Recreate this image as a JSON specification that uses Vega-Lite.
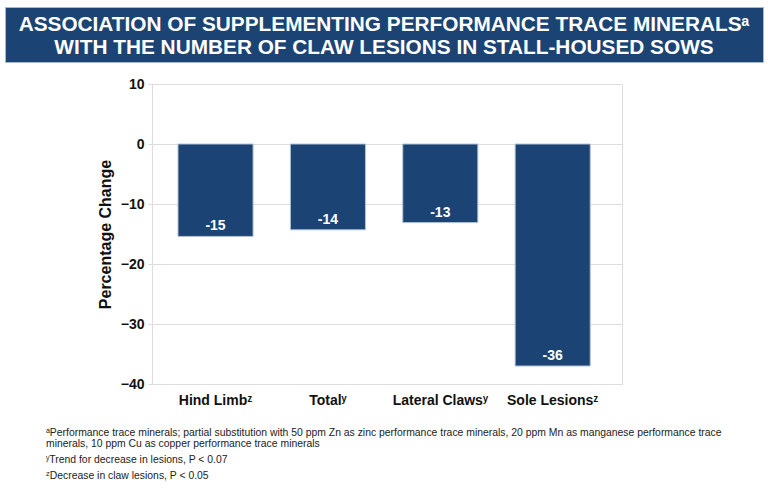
{
  "$schema": "https://vega.github.io/schema/vega-lite/v6.json",
  "padding": {"left": 4, "top": 6, "right": 0, "bottom": 0},
  "background": "#ffffff",
  "config": {
    "font": "Liberation Sans",
    "view": {"stroke": "#dddddd"}
  },
  "title": {
    "text": [
      "ᵃPerformance trace minerals; partial substitution with 50 ppm Zn as zinc performance trace minerals, 20 ppm Mn as manganese performance trace",
      "\u2002minerals, 10 ppm Cu as copper performance trace minerals"
    ],
    "subtitle": [
      "ʸTrend for decrease in lesions, P < 0.07",
      "ᶻDecrease in claw lesions, P < 0.05"
    ],
    "orient": "bottom",
    "anchor": "start",
    "frame": "bounds",
    "align": "left",
    "dx": 41.5,
    "offset": 20,
    "font": "Liberation Sans",
    "fontSize": 10.4,
    "fontWeight": "normal",
    "color": "#222222",
    "lineHeight": 11,
    "subtitleFont": "Liberation Sans",
    "subtitleFontSize": 10.4,
    "subtitleColor": "#222222",
    "subtitleLineHeight": 16,
    "subtitlePadding": 6
  },
  "vconcat": [
    {
      "width": 758,
      "height": 55,
      "view": {"fill": "#1b4373", "stroke": "#a9b8cc", "strokeWidth": 1},
      "data": {"values": [{"heading": "ASSOCIATION OF SUPPLEMENTING PERFORMANCE TRACE MINERALSᵃ\nWITH THE NUMBER OF CLAW LESIONS IN STALL-HOUSED SOWS"}]},
      "mark": {"type": "text", "lineBreak": "\n", "lineHeight": 23, "baseline": "middle", "align": "center", "dy": -10, "font": "Liberation Sans", "fontSize": 20.8, "fontWeight": "bold", "color": "#ffffff"},
      "encoding": {"text": {"field": "heading", "type": "nominal"}}
    },
    {
      "spacing": 0,
      "hconcat": [
        {
          "width": 91,
          "height": 20,
          "view": {"stroke": null, "fill": "#ffffff"},
          "data": {"values": []},
          "mark": "point",
          "encoding": {}
        },
        {
          "width": 470,
          "height": 300,
          "data": {
            "values": [
              {"category": "Hind Limbᶻ", "value": -15.4, "label": "-15"},
              {"category": "Totalʸ", "value": -14.3, "label": "-14"},
              {"category": "Lateral Clawsʸ", "value": -13.1, "label": "-13"},
              {"category": "Sole Lesionsᶻ", "value": -37.0, "label": "-36"}
            ]
          },
          "encoding": {
            "x": {
              "field": "category",
              "type": "nominal",
              "sort": null,
              "scale": {"paddingInner": 0.332, "paddingOuter": 0.257, "align": 0.45},
              "axis": {
                "title": null,
                "labelAngle": 0,
                "labelFontSize": 14,
                "labelFontWeight": "bold",
                "labelColor": "#111111",
                "labelPadding": 9,
                "ticks": false,
                "domain": false
              }
            }
          },
          "layer": [
            {
              "mark": {"type": "bar", "color": "#1b4373", "stroke": "#b3c1d4", "strokeWidth": 1},
              "encoding": {
                "y": {
                  "field": "value",
                  "type": "quantitative",
                  "scale": {"domain": [-40, 10], "nice": false},
                  "axis": {
                    "title": "Percentage Change",
                    "titleFontSize": 16,
                    "titleFontWeight": "bold",
                    "titleColor": "#111111",
                    "titlePadding": 7,
                    "values": [-40, -30, -20, -10, 0, 10],
                    "labelFontSize": 14,
                    "labelFontWeight": "bold",
                    "labelColor": "#111111",
                    "labelPadding": 4,
                    "tickSize": 4,
                    "tickColor": "#dddddd",
                    "gridColor": "#dddddd",
                    "domain": false
                  }
                }
              }
            },
            {
              "mark": {"type": "text", "color": "#ffffff", "fontSize": 14, "fontWeight": "bold", "baseline": "alphabetic", "dy": -6},
              "encoding": {
                "y": {"field": "value", "type": "quantitative"},
                "text": {"field": "label", "type": "nominal"}
              }
            }
          ]
        }
      ]
    }
  ],
  "spacing": 13
}
